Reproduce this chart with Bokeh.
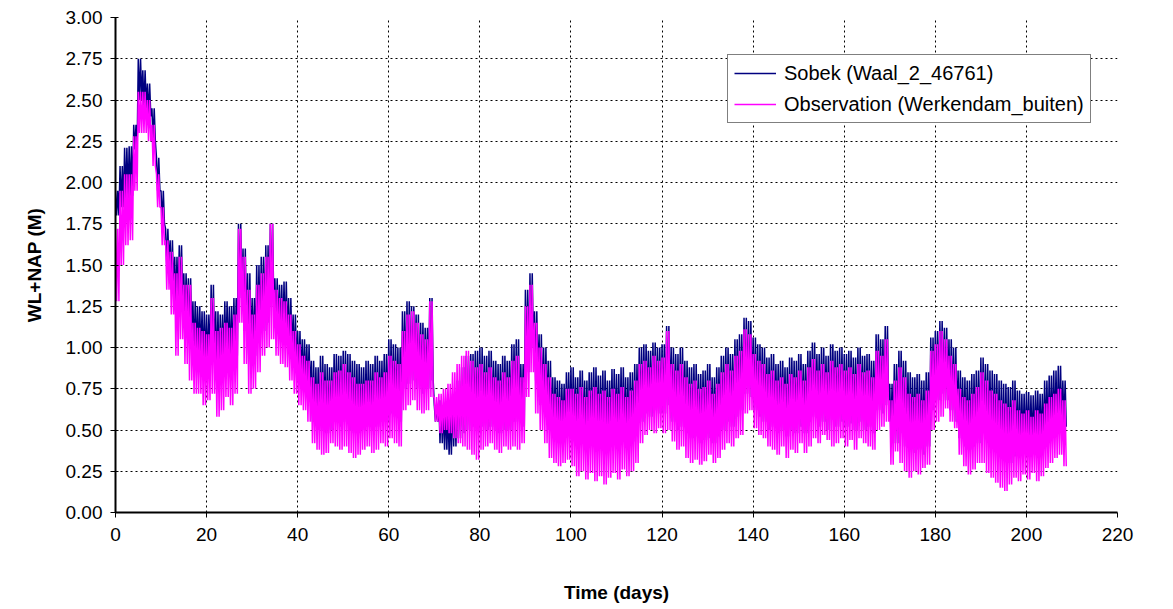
from bokeh.plotting import figure
from bokeh.models import Range1d, FixedTicker, NumeralTickFormatter, Legend, LegendItem
from bokeh.embed import file_html
from bokeh.resources import INLINE

# ---- data (per day: high water / low water) ----
days = list(range(209))

sobek_high = [
    1.95, 2.10, 2.21, 2.22, 2.35, 2.75, 2.68, 2.60, 2.45, 2.15,
    1.95, 1.72, 1.65, 1.55, 1.62, 1.45, 1.42, 1.28, 1.25, 1.22,
    1.20, 1.38, 1.22, 1.20, 1.28, 1.25, 1.30, 1.75, 1.60, 1.45,
    1.30, 1.50, 1.55, 1.62, 1.75, 1.42, 1.38, 1.40, 1.30, 1.20,
    1.10, 1.05, 1.02, 0.92, 0.88, 0.95, 0.90, 0.88, 0.96, 0.95,
    0.98, 0.96, 0.92, 0.90, 0.88, 0.92, 0.90, 0.95, 0.92, 0.96,
    1.05, 1.02, 1.00, 1.22, 1.28, 1.25, 1.20, 1.15, 1.12, 1.30,
    0.65, 0.68, 0.65, 0.62, 0.72, 0.80, 0.88, 0.95, 0.96, 0.98,
    1.00, 0.95, 0.98, 0.92, 0.90, 0.95, 0.92, 1.02, 1.05, 0.90,
    1.35, 1.45, 1.22, 1.08, 1.00, 0.92, 0.82, 0.80, 0.78, 0.85,
    0.88, 0.82, 0.86, 0.80, 0.85, 0.88, 0.83, 0.86, 0.80, 0.87,
    0.84, 0.88, 0.82, 0.85, 0.90, 1.00, 1.02, 0.98, 1.03, 1.00,
    1.02, 1.13, 1.00, 0.96, 1.00, 0.92, 0.88, 0.90, 0.84, 0.86,
    0.90, 0.82, 0.88, 0.95, 1.00, 0.96, 1.05, 1.08, 1.18, 1.16,
    1.06, 1.02, 1.00, 0.94, 0.96, 0.90, 0.92, 0.88, 0.94, 0.92,
    0.96, 0.90, 0.98, 1.03, 0.96, 1.00, 0.95, 1.02, 0.98, 1.00,
    0.96, 0.98, 0.94, 1.00, 0.95, 0.96, 0.92, 1.08, 1.05, 1.13,
    0.78, 0.90, 0.98, 0.92, 0.85, 0.82, 0.84, 0.80, 0.85, 1.06,
    1.10, 1.16, 1.12, 1.05, 1.00, 0.86, 0.82, 0.80, 0.84, 0.86,
    0.94, 0.90, 0.86, 0.84, 0.80, 0.78, 0.76, 0.80, 0.74, 0.72,
    0.73, 0.71, 0.74, 0.72, 0.80, 0.83, 0.86, 0.89, 0.80,
]

sobek_low = [
    1.80, 1.85, 1.90, 1.92, 2.20, 2.50, 2.45, 2.40, 2.25, 1.95,
    1.75, 1.50, 1.35, 1.25, 1.30, 1.15, 1.05, 0.95, 0.95, 0.90,
    0.88, 0.95, 0.85, 0.88, 0.92, 0.90, 0.95, 1.30, 1.10, 0.95,
    0.95, 1.05, 1.10, 1.15, 1.25, 1.10, 1.05, 1.05, 0.95, 0.88,
    0.80, 0.75, 0.72, 0.55, 0.50, 0.50, 0.48, 0.50, 0.55, 0.52,
    0.55, 0.50, 0.48, 0.48, 0.50, 0.52, 0.50, 0.52, 0.55, 0.55,
    0.60, 0.58, 0.55, 0.75, 0.78, 0.80, 0.75, 0.72, 0.75, 0.80,
    0.55, 0.42, 0.38, 0.35, 0.40, 0.45, 0.48, 0.50, 0.52, 0.50,
    0.52, 0.50, 0.52, 0.50, 0.48, 0.50, 0.50, 0.55, 0.55, 0.52,
    0.85, 1.00, 0.80, 0.65, 0.58, 0.50, 0.45, 0.42, 0.45, 0.48,
    0.45, 0.42, 0.44, 0.40, 0.42, 0.45, 0.40, 0.42, 0.40, 0.44,
    0.42, 0.45, 0.40, 0.43, 0.48, 0.55, 0.60, 0.58, 0.62, 0.60,
    0.60, 0.65, 0.55, 0.50, 0.52, 0.48, 0.45, 0.46, 0.42, 0.44,
    0.45, 0.42, 0.46, 0.50, 0.55, 0.52, 0.58, 0.62, 0.72, 0.70,
    0.62, 0.58, 0.55, 0.50, 0.52, 0.48, 0.50, 0.46, 0.50, 0.48,
    0.52, 0.48, 0.55, 0.58, 0.52, 0.55, 0.50, 0.56, 0.52, 0.55,
    0.52, 0.54, 0.50, 0.55, 0.50, 0.52, 0.48, 0.62, 0.60, 0.65,
    0.45, 0.42, 0.48, 0.40, 0.38, 0.36, 0.38, 0.35, 0.40, 0.62,
    0.68, 0.72, 0.68, 0.62, 0.55, 0.45, 0.40, 0.38, 0.40, 0.42,
    0.48, 0.44, 0.40, 0.36, 0.34, 0.32, 0.30, 0.34, 0.36, 0.38,
    0.40, 0.38, 0.42, 0.40, 0.44, 0.46, 0.48, 0.50, 0.52,
]

obs_high = [
    1.72, 1.95, 2.05, 2.05, 2.28, 2.55, 2.55, 2.50, 2.35, 2.05,
    1.85, 1.65, 1.58, 1.45, 1.55, 1.38, 1.38, 1.15, 1.12, 1.10,
    1.08, 1.30, 1.10, 1.12, 1.15, 1.12, 1.20, 1.72, 1.55, 1.35,
    1.20, 1.38, 1.45, 1.55, 1.75, 1.35, 1.30, 1.28, 1.20, 1.10,
    1.02, 0.95, 0.92, 0.82, 0.78, 0.85, 0.80, 0.80, 0.85, 0.86,
    0.90, 0.85, 0.82, 0.78, 0.78, 0.80, 0.80, 0.85, 0.82, 0.85,
    0.95, 0.92, 0.90, 1.10, 1.20, 1.22, 1.15, 1.08, 1.05, 1.28,
    0.70, 0.72, 0.75, 0.78, 0.85, 0.90, 0.95, 0.98, 0.92, 0.88,
    0.90, 0.85, 0.88, 0.82, 0.80, 0.85, 0.82, 0.92, 0.95, 0.82,
    1.25, 1.38, 1.15, 1.00, 0.90, 0.82, 0.72, 0.70, 0.68, 0.75,
    0.75, 0.72, 0.76, 0.70, 0.74, 0.76, 0.72, 0.74, 0.70, 0.75,
    0.72, 0.76, 0.70, 0.74, 0.80, 0.90, 0.92, 0.88, 0.95, 0.92,
    0.94, 1.10, 0.90, 0.86, 0.90, 0.82, 0.78, 0.80, 0.75, 0.76,
    0.80, 0.72, 0.78, 0.85, 0.90, 0.86, 0.95, 0.98, 1.11, 1.08,
    0.96, 0.92, 0.90, 0.84, 0.86, 0.80, 0.82, 0.78, 0.84, 0.82,
    0.86, 0.80, 0.88, 0.93, 0.86, 0.90, 0.85, 0.92, 0.88, 0.90,
    0.86, 0.88, 0.84, 0.90, 0.85, 0.86, 0.82, 0.98, 0.95, 1.05,
    0.68, 0.80, 0.88, 0.82, 0.72, 0.70, 0.72, 0.68, 0.74, 0.98,
    1.02, 1.10, 1.05, 0.95, 0.90, 0.75, 0.70, 0.68, 0.72, 0.76,
    0.85, 0.80, 0.74, 0.72, 0.68, 0.66, 0.64, 0.68, 0.62, 0.60,
    0.62, 0.58, 0.62, 0.60, 0.66, 0.70, 0.72, 0.75, 0.68,
]

obs_low = [
    1.28, 1.50, 1.62, 1.65, 1.95, 2.30, 2.30, 2.25, 2.10, 1.85,
    1.62, 1.35, 1.20, 0.95, 1.05, 0.90, 0.80, 0.72, 0.72, 0.65,
    0.68, 0.72, 0.58, 0.62, 0.70, 0.65, 0.72, 1.15, 0.90, 0.72,
    0.75, 0.85, 0.95, 1.00, 1.05, 0.95, 0.90, 0.88, 0.80, 0.72,
    0.65, 0.62, 0.55, 0.42, 0.38, 0.35, 0.36, 0.42, 0.40, 0.38,
    0.40, 0.36, 0.33, 0.35, 0.38, 0.40, 0.36, 0.38, 0.42, 0.40,
    0.45, 0.42, 0.40, 0.62, 0.65, 0.68, 0.62, 0.60, 0.62, 0.70,
    0.55, 0.48, 0.50, 0.48, 0.45, 0.42, 0.40, 0.38, 0.35, 0.32,
    0.38, 0.40, 0.42, 0.38, 0.36, 0.40, 0.38, 0.40, 0.38, 0.42,
    0.70, 0.85, 0.60, 0.50, 0.42, 0.33, 0.30, 0.28, 0.30, 0.32,
    0.28, 0.22, 0.25, 0.20, 0.24, 0.19, 0.22, 0.17, 0.21, 0.24,
    0.20, 0.26, 0.22, 0.25, 0.30, 0.42, 0.47, 0.50, 0.48, 0.51,
    0.48, 0.50, 0.43, 0.38, 0.40, 0.33, 0.30, 0.32, 0.29, 0.31,
    0.35, 0.30, 0.33, 0.38, 0.42, 0.40, 0.45, 0.47, 0.60, 0.62,
    0.51, 0.47, 0.45, 0.40, 0.38, 0.35, 0.40, 0.33, 0.38, 0.36,
    0.42, 0.36, 0.40, 0.45, 0.42, 0.47, 0.44, 0.40, 0.42, 0.45,
    0.40, 0.44, 0.38, 0.45, 0.42, 0.40, 0.38, 0.50, 0.52, 0.55,
    0.29, 0.37, 0.30, 0.25, 0.21, 0.25, 0.23, 0.27, 0.29, 0.50,
    0.55, 0.58, 0.63, 0.55, 0.51, 0.35, 0.28, 0.23, 0.26, 0.30,
    0.30, 0.24, 0.21, 0.18, 0.15, 0.13, 0.17, 0.21, 0.19, 0.23,
    0.20, 0.24, 0.19, 0.22, 0.27, 0.30, 0.33, 0.35, 0.28,
]

x_ticks = [0, 20, 40, 60, 80, 100, 120, 140, 160, 180, 200, 220]
y_ticks = [0.0, 0.25, 0.5, 0.75, 1.0, 1.25, 1.5, 1.75, 2.0, 2.25, 2.5, 2.75, 3.0]
series_names = ["Sobek (Waal_2_46761)", "Observation (Werkendam_buiten)"]

# ---- build time series: two tides per day (high, low, high, low) ----
def weave(hi, lo):
    xs, ys = [], []
    for d, h, l in zip(days, hi, lo):
        xs += [d, d + 0.25, d + 0.5, d + 0.75]
        ys += [h, l, h, l]
    return xs, ys

sx, sy = weave(sobek_high, sobek_low)
ox, oy = weave(obs_high, obs_low)

FONT = "Liberation Sans"

p = figure(width=1165, height=605, output_backend="svg", toolbar_location=None,
           x_range=Range1d(0, 220), y_range=Range1d(0, 3),
           min_border_left=115, min_border_right=48, min_border_top=17, min_border_bottom=93)
p.background_fill_color = "white"
p.border_fill_color = "white"
p.outline_line_color = None

r1 = p.line(sx, sy, line_color="#000080", line_width=1.5)
r2 = p.line(ox, oy, line_color="#FF00FF", line_width=1.5)

p.xaxis.ticker = FixedTicker(ticks=x_ticks)
p.yaxis.ticker = FixedTicker(ticks=y_ticks)
p.yaxis.formatter = NumeralTickFormatter(format="0.00")

for ax in (p.xaxis, p.yaxis):
    ax.axis_line_color = "black"
    ax.axis_line_width = 2
    ax.major_tick_line_color = "black"
    ax.major_tick_out = 5
    ax.minor_tick_line_color = None
    ax.major_label_text_font = FONT
    ax.major_label_text_font_size = "19px"
    ax.major_label_text_color = "black"
    ax.axis_label_text_font = FONT
    ax.axis_label_text_font_size = "19px"
    ax.axis_label_text_font_style = "bold"
    ax.axis_label_text_color = "black"

p.yaxis.major_tick_in = 3
p.xaxis.major_tick_in = 0
p.xaxis.axis_label = "Time (days)"
p.yaxis.axis_label = "WL+NAP (M)"
p.xaxis.major_label_standoff = 10
p.yaxis.major_label_standoff = 8
p.xaxis.axis_label_standoff = 38
p.yaxis.axis_label_standoff = 18

for g in (p.xgrid, p.ygrid):
    g.grid_line_color = "black"
    g.grid_line_dash = "2 3"
    g.grid_line_width = 1

legend = Legend(items=[LegendItem(label=series_names[0], renderers=[r1]),
                       LegendItem(label=series_names[1], renderers=[r2])],
                location=(612, 389))
legend.label_text_font = FONT
legend.label_text_font_size = "20px"
legend.label_text_color = "black"
legend.border_line_color = "black"
legend.border_line_width = 1
legend.background_fill_alpha = 1.0
legend.padding = 6
legend.spacing = 7
legend.label_height = 24
legend.glyph_width = 42
legend.label_standoff = 8
legend.margin = 0
p.add_layout(legend, "center")

open("out.html", "w").write(file_html(p, INLINE))
